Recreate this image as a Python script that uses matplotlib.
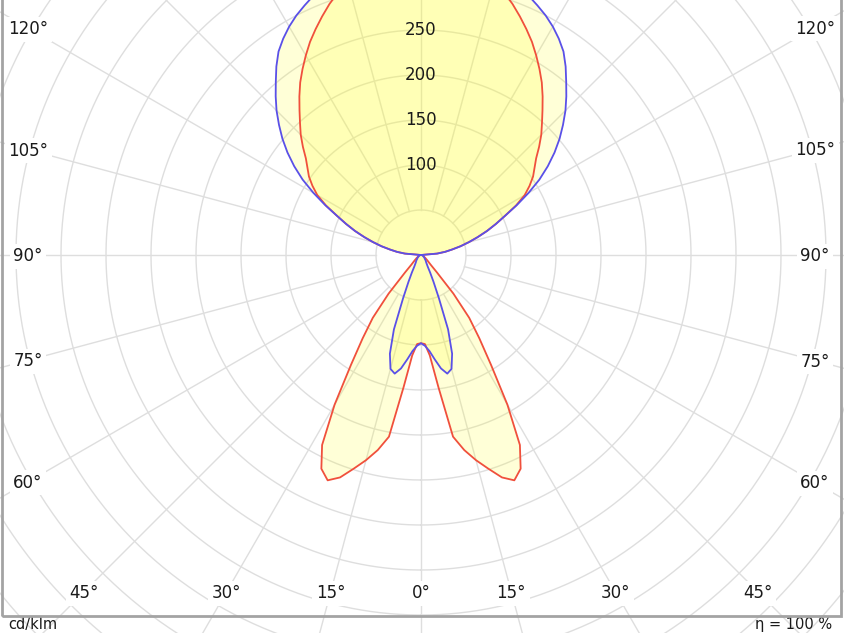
import numpy as np
import matplotlib
matplotlib.use("Agg")
import matplotlib.pyplot as plt
from matplotlib.patches import Rectangle

# ---- data (cd/klm) ----
gamma = [0, 2.5, 5, 7.5, 10, 12.5, 15, 17.5, 20, 22.5, 25, 27.5, 30, 32.5, 35,
         37.5, 40, 42.5, 45, 50, 55, 60, 65, 70, 75, 80, 85, 90,
         95, 97.5, 100, 102.5, 105, 107.5, 110, 112.5, 115, 117.5, 120, 122.5,
         125, 127.5, 130, 132.5, 135, 137.5, 140, 142.5, 145, 147.5, 150, 152.5,
         155, 157.5, 160, 162.5, 165, 167.5, 170, 172.5, 175, 177.5, 180]
c0_c180 = [98, 99, 112, 148, 205, 222, 236, 249, 263, 271, 262, 238, 192, 145, 113,
           88, 56, 26, 15, 9, 6, 4, 3, 2, 1.5, 1, 0.5, 0,
           18, 27, 35, 45, 55, 66, 78, 90, 103, 119, 133, 143,
           152, 159, 167, 178, 189, 199, 210, 222, 234, 245, 256, 267,
           277, 287, 297, 306, 315, 321, 327, 331, 334, 336, 337]
c90_c270 = [98, 101, 107, 117, 128, 135, 131, 115, 88, 52, 33, 22, 15, 12, 10,
            9, 8, 7, 6, 5, 4, 3, 2.5, 2, 1.5, 1, 0.5, 0,
            18, 27, 35, 45, 55, 66, 78, 90, 103, 120, 138, 156,
            172, 187, 201, 214, 227, 239, 251, 264, 276, 285, 293, 300,
            306, 312, 318, 323, 327, 330, 333, 335, 336, 337, 337]
ring_values = [50, 100, 150, 200, 250, 300, 350, 400, 450, 500, 550, 600, 650]
ring_labels = [100, 150, 200, 250]
angle_labels = [0, 15, 30, 45, 60, 75, 90, 105, 120]
unit_text = "cd/klm"
eff_text = "η = 100 %"

W, H = 844, 633
CX, CY = 421, 255          # pole position in pixels (from top-left)
PX_PER_UNIT = 0.9
RMAX = 700
R_PX = RMAX * PX_PER_UNIT

fig = plt.figure(figsize=(W / 100, H / 100), dpi=100)
fig.patch.set_facecolor("white")
ax = fig.add_axes([(CX - R_PX) / W, (H - CY - R_PX) / H, 2 * R_PX / W, 2 * R_PX / H],
                  projection="polar")
ax.set_theta_zero_location("S")
ax.set_theta_direction(1)
ax.set_ylim(0, RMAX)
ax.grid(False)
ax.set_xticks([])
ax.set_yticks([])
ax.spines["polar"].set_visible(False)
ax.set_facecolor("none")

grid_c = "#dedede"
full = np.linspace(0, 2 * np.pi, 721)
for rv in ring_values:
    ax.plot(full, np.full_like(full, rv), color=grid_c, lw=1.0, zorder=1)
for a in range(0, 360, 15):
    t = np.deg2rad(a)
    ax.plot([t, t], [ring_values[0], RMAX], color=grid_c, lw=1.0, zorder=1)

g = np.deg2rad(np.array(gamma))
def mirrored(vals):
    v = np.array(vals, dtype=float)
    th = np.concatenate([-g[::-1], g[1:]])
    rr = np.concatenate([v[::-1], v[1:]])
    return th, rr

fill_c = "#ffff22"
series = [(c0_c180, "#f0503c"), (c90_c270, "#5a50e8")]
for vals, col in series:
    th, rr = mirrored(vals)
    ax.fill(th, rr, color=fill_c, alpha=0.18, lw=0, zorder=2)
for vals, col in series:
    th, rr = mirrored(vals)
    ax.plot(th, rr, color=col, lw=1.3, zorder=3, solid_joinstyle="round")

fs = 12
for rv in ring_labels:
    ax.text(np.pi, rv, str(rv), ha="center", va="center", fontsize=fs,
            color="#1a1a1a", zorder=4)

# angle labels placed where radial lines meet an inset rectangle
xl, xr, yb = 28, 815, 592
for a in angle_labels:
    sides = [1, -1] if a != 0 else [1]
    for s in sides:
        ga = np.deg2rad(a)
        sx, sy = np.sin(ga), np.cos(ga)
        if sy > 1e-9 and (yb - CY) * abs(sx) / sy <= (xr - CX):
            px = CX + s * (yb - CY) * sx / sy
            py = yb
        else:
            px = xr if s > 0 else xl
            py = CY + (abs(px - CX)) * sy / sx
        fig.text(px / W, 1 - (py + 1) / H, f"{a}°", ha="center", va="center",
                 fontsize=fs, color="#1a1a1a", zorder=5,
                 bbox=dict(facecolor="white", edgecolor="none", pad=2.5))

# frame
frame = Rectangle((1.5 / W, 1 - 616 / H), (841 - 1.5) / W, 700 / H,
                  transform=fig.transFigure, fill=False, edgecolor="#a3a3a3",
                  lw=2.0, zorder=10)
fig.add_artist(frame)

fig.text(8 / W, 1 - 629 / H, unit_text, ha="left", va="baseline", fontsize=10.5,
         color="#1a1a1a")
fig.text(832 / W, 1 - 629 / H, eff_text, ha="right", va="baseline", fontsize=10.5,
         color="#1a1a1a")

fig.savefig("out.png", dpi=100, facecolor="white")
